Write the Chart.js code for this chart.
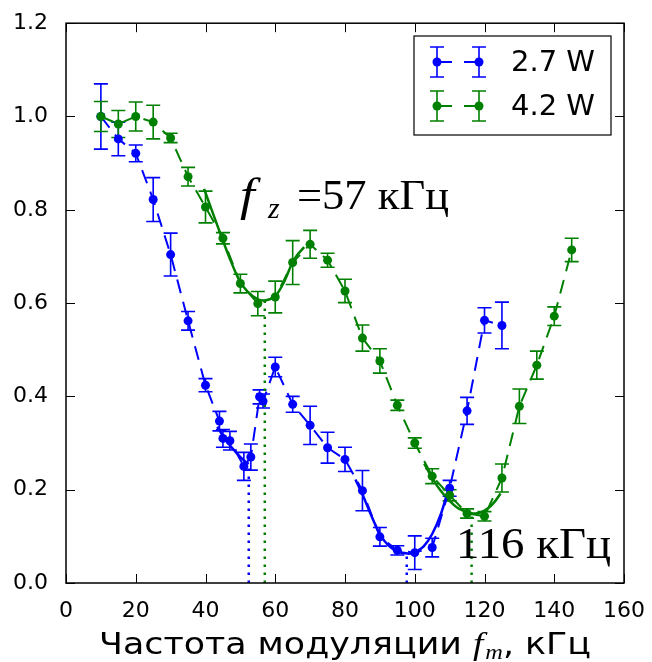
<!DOCTYPE html>
<html lang="ru">
<head>
    <meta charset="UTF-8">
    <title>Частота модуляции</title>
    <style>
        html, body { margin: 0; padding: 0; background: #fff; }
        canvas { display: block; }
    </style>
</head>
<body>
    <canvas id="dipChart" width="652" height="662" style="width:652px;height:662px"></canvas>

    <script src="https://cdn.jsdelivr.net/npm/chart.js"></script>
    <script>
        // 2.7 W series
        const freqBlue = [10, 15, 20, 25, 30, 35, 40, 44, 45, 47, 51, 53, 55.5, 56.5, 60, 65, 70, 75, 80, 85, 90, 95, 100, 105, 110, 115, 120, 125];
        const signalBlue = [1.0, 0.952, 0.921, 0.822, 0.704, 0.562, 0.424, 0.347, 0.31, 0.305, 0.25, 0.27, 0.399, 0.39, 0.463, 0.383, 0.338, 0.29, 0.265, 0.198, 0.099, 0.07, 0.065, 0.076, 0.203, 0.369, 0.563, 0.552];
        const errBlue = [0.07, 0.036, 0.018, 0.047, 0.046, 0.02, 0.014, 0.021, 0.019, 0.02, 0.03, 0.028, 0.015, 0.015, 0.021, 0.017, 0.041, 0.033, 0.026, 0.043, 0.02, 0.01, 0.036, 0.02, 0.017, 0.029, 0.027, 0.05];

        // 4.2 W series
        const freqGreen = [10, 15, 20, 25, 30, 35, 40, 45, 50, 55, 60, 65, 70, 75, 80, 85, 90, 95, 100, 105, 110, 115, 120, 125, 130, 135, 140, 145];
        const signalGreen = [1.0, 0.984, 1.0, 0.988, 0.954, 0.871, 0.806, 0.739, 0.642, 0.599, 0.613, 0.687, 0.726, 0.692, 0.626, 0.525, 0.476, 0.381, 0.30, 0.229, 0.188, 0.149, 0.143, 0.225, 0.379, 0.467, 0.572, 0.714];
        const errGreen = [0.032, 0.029, 0.031, 0.036, 0.01, 0.02, 0.034, 0.012, 0.02, 0.026, 0.034, 0.047, 0.03, 0.015, 0.025, 0.028, 0.026, 0.011, 0.011, 0.016, 0.012, 0.01, 0.01, 0.03, 0.037, 0.03, 0.02, 0.025];

        // fitted curves near the dips
        const fitBlueAX = [43.4, 45, 46.7, 48.5, 50, 51.5, 52.4];
        const fitBlueAY = [0.335, 0.315, 0.298, 0.282, 0.27, 0.26, 0.255];
        const fitBlueBX = [83, 85, 87.5, 90, 92.5, 95, 98, 100, 102.5, 105, 107.5, 109.6];
        const fitBlueBY = [0.222, 0.19, 0.145, 0.105, 0.08, 0.068, 0.063, 0.066, 0.078, 0.105, 0.148, 0.2];
        const fitGreenAX = [39.6, 42, 44.8, 47, 49.6, 52, 55, 57.3, 60, 62.5, 64.8, 66.5, 68.3];
        const fitGreenAY = [0.845, 0.795, 0.738, 0.695, 0.65, 0.625, 0.608, 0.606, 0.615, 0.645, 0.685, 0.705, 0.72];
        const fitGreenBX = [102.7, 105, 107.5, 110, 112.5, 116, 118.5, 121, 123, 124.6];
        const fitGreenBY = [0.256, 0.225, 0.197, 0.176, 0.16, 0.15, 0.15, 0.16, 0.175, 0.192];

        // dotted dip markers
        const dipFreq = [52.4, 57.0, 97.7, 116.3];
        const dipTop = [0.255, 0.605, 0.063, 0.15];
        const dipColor = ['#0000ff', '#008000', '#0000ff', '#008000'];

        // axis ticks
        const xTicks = [0, 20, 40, 60, 80, 100, 120, 140, 160];
        const yTicks = [0.0, 0.2, 0.4, 0.6, 0.8, 1.0, 1.2];

        const seriesLabels = ['2.7 W', '4.2 W'];
        const seriesColors = ['#0000ff', '#008000'];

        function pts(xs, ys) {
            return xs.map((x, i) => ({ x: x, y: ys[i] }));
        }

        const datasets = [
            {
                label: seriesLabels[0], data: pts(freqBlue, signalBlue), errors: errBlue,
                borderColor: seriesColors[0], backgroundColor: seriesColors[0],
                showLine: true, borderDash: [14, 9], borderWidth: 2,
                pointRadius: 4.5, pointBorderWidth: 0, order: 2
            },
            {
                label: seriesLabels[1], data: pts(freqGreen, signalGreen), errors: errGreen,
                borderColor: seriesColors[1], backgroundColor: seriesColors[1],
                showLine: true, borderDash: [14, 9], borderWidth: 2,
                pointRadius: 4.5, pointBorderWidth: 0, order: 1
            }
        ];

        [[fitBlueAX, fitBlueAY, 0], [fitBlueBX, fitBlueBY, 0], [fitGreenAX, fitGreenAY, 1], [fitGreenBX, fitGreenBY, 1]].forEach(f => {
            datasets.push({
                data: pts(f[0], f[1]), borderColor: seriesColors[f[2]],
                showLine: true, borderWidth: 2.5, pointRadius: 0, tension: 0.3, order: 3
            });
        });

        dipFreq.forEach((x, i) => {
            datasets.push({
                data: [{ x: x, y: 0 }, { x: x, y: dipTop[i] }], borderColor: dipColor[i],
                showLine: true, borderWidth: 2.5, borderDash: [2.5, 5.5], pointRadius: 0, order: 4
            });
        });

        const errorBars = {
            id: 'errorBars',
            beforeDatasetsDraw(chart) {
                const ctx = chart.ctx, xs = chart.scales.x, ys = chart.scales.y;
                ctx.save();
                chart.data.datasets.forEach(ds => {
                    if (!ds.errors) return;
                    ctx.strokeStyle = ds.borderColor;
                    ctx.lineWidth = 1.6;
                    ds.data.forEach((p, i) => {
                        const px = xs.getPixelForValue(p.x);
                        const top = ys.getPixelForValue(p.y + ds.errors[i]);
                        const bot = ys.getPixelForValue(p.y - ds.errors[i]);
                        ctx.beginPath();
                        ctx.moveTo(px, top); ctx.lineTo(px, bot);
                        ctx.moveTo(px - 7, top); ctx.lineTo(px + 7, top);
                        ctx.moveTo(px - 7, bot); ctx.lineTo(px + 7, bot);
                        ctx.stroke();
                    });
                });
                ctx.restore();
            }
        };

        // text drawn slightly stretched sideways, like the reference
        function wideText(ctx, txt, x, y, sx) {
            ctx.save();
            ctx.translate(x, y);
            ctx.scale(sx, 1);
            ctx.fillText(txt, 0, 0);
            ctx.restore();
            return ctx.measureText(txt).width * sx;
        }

        const frameAndText = {
            id: 'frameAndText',
            afterDraw(chart) {
                const ctx = chart.ctx, a = chart.chartArea;
                const xs = chart.scales.x, ys = chart.scales.y;
                ctx.save();

                // frame and inward ticks
                ctx.strokeStyle = '#000';
                ctx.lineWidth = 1.5;
                ctx.strokeRect(a.left, a.top, a.right - a.left, a.bottom - a.top);
                ctx.lineWidth = 1;
                ctx.beginPath();
                xTicks.forEach(v => {
                    const px = Math.round(xs.getPixelForValue(v)) + 0.5;
                    ctx.moveTo(px, a.bottom); ctx.lineTo(px, a.bottom - 9);
                    ctx.moveTo(px, a.top); ctx.lineTo(px, a.top + 9);
                });
                yTicks.forEach(v => {
                    const py = Math.round(ys.getPixelForValue(v)) + 0.5;
                    ctx.moveTo(a.left, py); ctx.lineTo(a.left + 9, py);
                    ctx.moveTo(a.right, py); ctx.lineTo(a.right - 9, py);
                });
                ctx.stroke();

                // legend
                ctx.fillStyle = '#fff';
                ctx.fillRect(414, 36, 197, 99);
                ctx.lineWidth = 1.2;
                ctx.strokeRect(414, 36, 197, 99);
                [62, 106].forEach((ry, i) => {
                    const c = seriesColors[i];
                    ctx.strokeStyle = c; ctx.fillStyle = c;
                    ctx.lineWidth = 2;
                    ctx.beginPath();
                    ctx.moveTo(437, ry); ctx.lineTo(452, ry);
                    ctx.moveTo(464, ry); ctx.lineTo(479, ry);
                    ctx.stroke();
                    ctx.lineWidth = 1.6;
                    [437, 479].forEach(mx => {
                        ctx.beginPath();
                        ctx.moveTo(mx, ry - 15); ctx.lineTo(mx, ry + 15);
                        ctx.moveTo(mx - 7, ry - 15); ctx.lineTo(mx + 7, ry - 15);
                        ctx.moveTo(mx - 7, ry + 15); ctx.lineTo(mx + 7, ry + 15);
                        ctx.stroke();
                        ctx.beginPath();
                        ctx.arc(mx, ry, 4.5, 0, Math.PI * 2);
                        ctx.fill();
                    });
                    ctx.fillStyle = '#000';
                    ctx.font = '29px "DejaVu Sans"';
                    ctx.textBaseline = 'middle';
                    ctx.textAlign = 'left';
                    ctx.fillText(seriesLabels[i], 511, ry + 1);
                });

                // annotations
                ctx.fillStyle = '#000';
                ctx.textBaseline = 'alphabetic';
                ctx.font = 'italic 46px "Liberation Serif"';
                wideText(ctx, 'f', 240, 210, 1.15);
                ctx.font = 'italic 30px "Liberation Serif"';
                ctx.fillText('z', 268, 218);
                ctx.font = '42px "Liberation Serif"';
                wideText(ctx, '=57 кГц', 297, 209, 1.06);
                ctx.font = '45px "Liberation Serif"';
                wideText(ctx, '116 кГц', 456, 558, 1.04);

                // x axis title
                const sx = 1.16;
                const base = 654;
                const parts = [
                    ['Частота модуляции ', '30px "DejaVu Sans"', 0],
                    ['f', 'italic 32px "Liberation Serif"', 0],
                    ['m', 'italic 21px "Liberation Serif"', 5],
                    [', кГц', '30px "DejaVu Sans"', 0]
                ];
                let total = 0;
                parts.forEach(p => { ctx.font = p[1]; total += ctx.measureText(p[0]).width * sx; });
                total += 2;
                let x0 = (a.left + a.right) / 2 - total / 2;
                parts.forEach((p, i) => {
                    ctx.font = p[1];
                    x0 += wideText(ctx, p[0], x0, base + p[2], sx);
                    if (i === 1) x0 += 2;
                });

                ctx.restore();
            }
        };

        new Chart(document.getElementById('dipChart'), {
            type: 'scatter',
            data: { datasets: datasets },
            options: {
                responsive: false,
                animation: false,
                devicePixelRatio: 1,
                layout: { padding: { top: 22, right: 24, left: 0, bottom: 0 } },
                plugins: { legend: { display: false }, tooltip: { enabled: false } },
                scales: {
                    x: {
                        type: 'linear', min: 0, max: 160,
                        afterFit: s => { s.height = 79; },
                        afterBuildTicks: s => { s.ticks = xTicks.map(v => ({ value: v })); },
                        grid: { display: false },
                        border: { display: false },
                        ticks: { color: '#000', font: { family: 'DejaVu Sans', size: 22 }, padding: 7, maxRotation: 0 }
                    },
                    y: {
                        type: 'linear', min: 0, max: 1.2,
                        afterFit: s => { s.width = 66; },
                        afterBuildTicks: s => { s.ticks = yTicks.map(v => ({ value: v })); },
                        grid: { display: false },
                        border: { display: false },
                        ticks: { color: '#000', font: { family: 'DejaVu Sans', size: 22 }, padding: 10,
                                 callback: v => v.toFixed(1) }
                    }
                }
            },
            plugins: [errorBars, frameAndText]
        });
    </script>
</body>
</html>
